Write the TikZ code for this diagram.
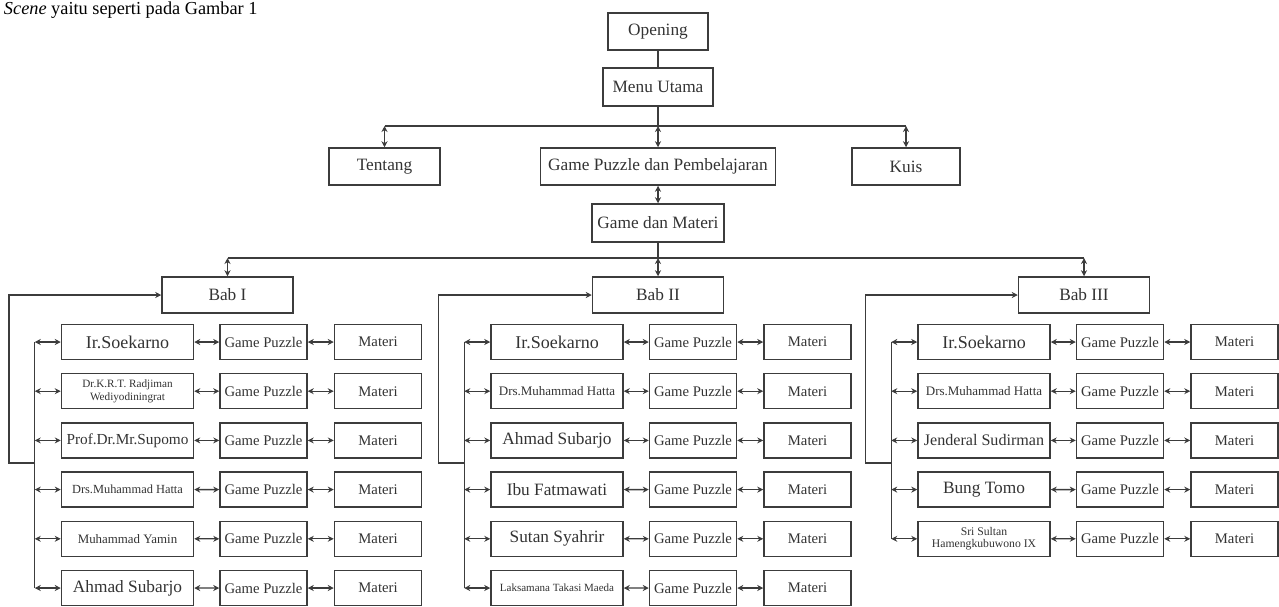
\documentclass[tikz,border=0pt]{standalone}
\usepackage{fontspec}
\setmainfont{Liberation Serif}
\usetikzlibrary{arrows.meta}
\definecolor{linegray}{HTML}{3C3C3C}
\definecolor{textgray}{HTML}{333333}

\begin{document}
\begin{tikzpicture}[x=1pt,y=-1pt,color=linegray,line width=1.3pt,
        >={Stealth[length=6pt,width=6pt]},
        box/.style={draw,line width=1.5pt,inner sep=1pt,align=center,text=textgray,
            font=\fontsize{17.3}{19}\selectfont,minimum height=37},
        tokoh/.style={box,minimum width=132,minimum height=35},
        kotak/.style={box,minimum width=87,minimum height=35,font=\fontsize{14.7}{16}\selectfont}]
            \useasboundingbox (0,0) rectangle (1279,606);
            \node[anchor=base west,text=black,font=\fontsize{18.3}{20}\selectfont] at (0,14) (judul) {\textit{Scene} yaitu seperti pada Gambar 1};
            % menu
            \node[box,minimum width=100] at (658,31.5) (opening) {Opening};
            \node[box,minimum width=110,minimum height=38] at (658,87) (menu) {Menu Utama};
            \node[box,minimum width=111] at (384.5,166.5) (tentang) {Tentang};
            \node[box,minimum width=235] at (658,166.5) (gpdp) {Game Puzzle dan Pembelajaran};
            \node[box,minimum width=108] at (906,166.5) (kuis) {Kuis};
            \node[box,minimum width=132,minimum height=38] at (658,223) (gdm) {Game dan Materi};
            \node[box,minimum width=131,minimum height=36] at (227.5,295) (bab1) {Bab I};
            \node[box,minimum width=131,minimum height=36] at (658,295) (bab2) {Bab II};
            \node[box,minimum width=131,minimum height=36] at (1084,295) (bab3) {Bab III};
            \coordinate (bus1) at (658,126);
            \coordinate (bus2) at (658,258);
            \draw (opening) to (menu);
            \draw (menu) to (bus1);
            \draw (tentang |- bus1) to (kuis |- bus1);
            \draw[<->] (tentang |- bus1) to (tentang);
            \draw[<->] (bus1) to (gpdp);
            \draw[<->] (kuis |- bus1) to (kuis);
            \draw[<->] (gpdp) to (gdm);
            \draw (gdm) to (bus2);
            \draw (bab1 |- bus2) to (bab3 |- bus2);
            \draw[<->] (bab1 |- bus2) to (bab1);
            \draw[<->] (bus2) to (bab2);
            \draw[<->] (bab3 |- bus2) to (bab3);
            % bab I
            \node[tokoh,font=\fontsize{18}{20}\selectfont] at (127.5,342) (tokoh1-1) {Ir.Soekarno};
            \node[tokoh,font=\fontsize{11.2}{12.5}\selectfont] at (127.5,391.2) (tokoh1-2) {Dr.K.R.T. Radjiman\\Wediyodiningrat};
            \node[tokoh,font=\fontsize{15.3}{17}\selectfont] at (127.5,440.4) (tokoh1-3) {Prof.Dr.Mr.Supomo};
            \node[tokoh,font=\fontsize{12.4}{14}\selectfont] at (127.5,489.6) (tokoh1-4) {Drs.Muhammad Hatta};
            \node[tokoh,font=\fontsize{12.9}{14}\selectfont] at (127.5,538.8) (tokoh1-5) {Muhammad Yamin};
            \node[tokoh] at (127.5,588) (tokoh1-6) {Ahmad Subarjo};
            % bab II
            \node[tokoh,font=\fontsize{18}{20}\selectfont] at (557,342) (tokoh2-1) {Ir.Soekarno};
            \node[tokoh,font=\fontsize{13}{14}\selectfont] at (557,391.2) (tokoh2-2) {Drs.Muhammad Hatta};
            \node[tokoh] at (557,440.4) (tokoh2-3) {Ahmad Subarjo};
            \node[tokoh] at (557,489.6) (tokoh2-4) {Ibu Fatmawati};
            \node[tokoh] at (557,538.8) (tokoh2-5) {Sutan Syahrir};
            \node[tokoh,font=\fontsize{11}{12}\selectfont] at (557,588) (tokoh2-6) {Laksamana Takasi Maeda};
            % bab III
            \node[tokoh,font=\fontsize{18}{20}\selectfont] at (984,342) (tokoh3-1) {Ir.Soekarno};
            \node[tokoh,font=\fontsize{13}{14}\selectfont] at (984,391.2) (tokoh3-2) {Drs.Muhammad Hatta};
            \node[tokoh,font=\fontsize{16.1}{18}\selectfont] at (984,440.4) (tokoh3-3) {Jenderal Sudirman};
            \node[tokoh] at (984,489.6) (tokoh3-4) {Bung Tomo};
            \node[tokoh,font=\fontsize{11.7}{12.5}\selectfont] at (984,538.8) (tokoh3-5) {Sri Sultan\\Hamengkubuwono IX};
            \foreach \k/\x/\n in {1/127.5/6,2/557/6,3/984/5}{
                \pgfmathsetmacro\xg{\x+136}
                \pgfmathsetmacro\xm{\x+250.5}
                \foreach \i in {1,...,\n}{
                    \pgfmathsetmacro\y{342+(\i-1)*49.2}
                    \node[kotak] at (\xg,\y) (game\k-\i) {Game Puzzle};
                    \node[kotak] at (\xm,\y) (materi\k-\i) {Materi};
                    \draw[<->] (tokoh\k-\i) to (game\k-\i);
                    \draw[<->] (game\k-\i) to (materi\k-\i);
                    \draw[<->] ([xshift=-26pt]tokoh\k-\i.west) to (tokoh\k-\i);
                }
                \draw ([xshift=-26pt]tokoh\k-1.west) -- ([xshift=-26pt]tokoh\k-\n.west);
                \coordinate (balik\k) at (\x-92.5,463);
                \draw[->] (balik\k) -- ++(-26,0) |- (bab\k);
            }
        \end{tikzpicture}
\end{document}
